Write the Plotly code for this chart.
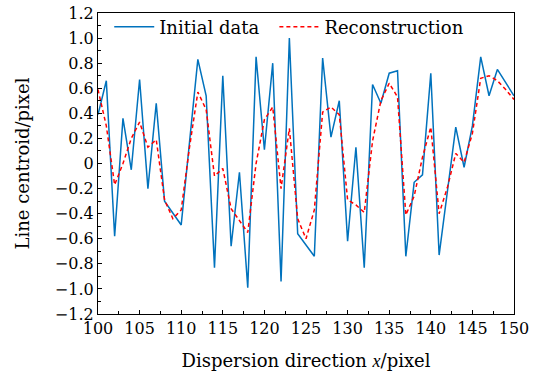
import plotly.graph_objects as go

# Pixel positions along the dispersion direction
x_pixel = list(range(100, 151))

# Measured line centroid offsets
initial_data = [
    0.39, 0.66, -0.58, 0.36, -0.05, 0.67, -0.20, 0.48, -0.30, -0.40,
    -0.49, 0.17, 0.83, 0.54, -0.83, 0.70, -0.66, -0.07, -0.99, 0.85,
    0.11, 0.80, -0.94, 1.00, -0.56, -0.65, -0.74, 0.84, 0.21, 0.50,
    -0.62, 0.13, -0.83, 0.63, 0.48, 0.72, 0.74, -0.74, -0.15, -0.09,
    0.72, -0.73, -0.22, 0.29, -0.03, 0.30, 0.85, 0.54, 0.75, 0.64,
    0.54,
]

# Reconstructed centroid offsets
reconstruction = [
    0.59, 0.30, -0.17, 0.00, 0.20, 0.33, 0.13, 0.19, -0.29, -0.44,
    -0.37, 0.13, 0.57, 0.43, -0.10, -0.04, -0.36, -0.46, -0.55, 0.00,
    0.35, 0.45, -0.20, 0.28, -0.44, -0.60, -0.37, 0.41, 0.45, 0.39,
    -0.29, -0.33, -0.39, 0.18, 0.50, 0.64, 0.53, -0.41, -0.26, 0.05,
    0.29, -0.40, -0.19, 0.08, 0.01, 0.24, 0.68, 0.70, 0.66, 0.59,
    0.51,
]

y_tick_vals = [1.2, 1.0, 0.8, 0.6, 0.4, 0.2, 0, -0.2, -0.4, -0.6, -0.8, -1.0, -1.2]
y_tick_text = ["1.2", "1.0", "0.8", "0.6", "0.4", "0.2", "0",
               "\u22120.2", "\u22120.4", "\u22120.6", "\u22120.8", "\u22121.0", "\u22121.2"]
x_tick_vals = [100, 105, 110, 115, 120, 125, 130, 135, 140, 145, 150]

FONT = "DejaVu Serif"
TICK_SIZE = 16
TEXT_SIZE = 18

fig = go.Figure()
fig.add_trace(go.Scatter(
    x=x_pixel, y=initial_data, mode="lines", name="Initial data",
    line=dict(color="#0072BD", width=1.5), legend="legend",
))
fig.add_trace(go.Scatter(
    x=x_pixel, y=reconstruction, mode="lines", name="Reconstruction",
    line=dict(color="#FF0000", width=1.5, dash="4px,3px"), legend="legend2",
))

axis_common = dict(
    showgrid=False, zeroline=False,
    showline=True, linecolor="black", linewidth=1.2, mirror=True,
    ticks="inside", ticklen=4, tickwidth=1, tickcolor="black",
    tickfont=dict(family=FONT, size=TICK_SIZE, color="black"),
)

fig.update_xaxes(
    range=[100, 150], tickvals=x_tick_vals,
    minor=dict(ticks="inside", dtick=2.5, tick0=100, ticklen=3, tickcolor="black"),
    title=dict(
        text="Dispersion direction "
             "<span style='font-family:Liberation Serif'><i>x</i></span>/pixel",
        font=dict(family=FONT, size=TEXT_SIZE, color="black"), standoff=17),
    **axis_common,
)
fig.update_yaxes(
    range=[-1.2, 1.2], tickvals=y_tick_vals, ticktext=y_tick_text,
    minor=dict(ticks="inside", dtick=0.1, tick0=0, ticklen=3, tickcolor="black"),
    title=dict(text="Line centroid/pixel",
               font=dict(family=FONT, size=TEXT_SIZE, color="black"), standoff=20),
    **axis_common,
)

legend_style = dict(
    orientation="h", xanchor="left",
    yref="container", y=0.977, yanchor="top",
    bgcolor="rgba(0,0,0,0)", font=dict(family=FONT, size=TEXT_SIZE, color="black"),
    itemwidth=40,
)

fig.update_layout(
    width=541, height=371,
    margin=dict(l=98, r=27, t=13, b=57, autoexpand=False),
    paper_bgcolor="white", plot_bgcolor="white",
    showlegend=True,
    legend=dict(x=0.027, **legend_style),
    legend2=dict(x=0.424, **legend_style),
)

fig.write_html("out.html")
